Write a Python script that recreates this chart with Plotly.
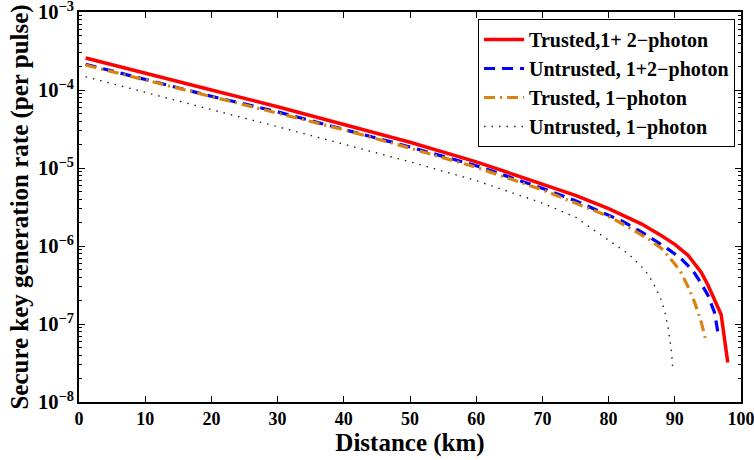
import plotly.graph_objects as go

# Distances (km) and secure key rates (per pulse)
x_trusted_12 = [1, 10, 20, 30, 40, 50, 60, 70, 75, 80, 85, 88, 90, 92, 93, 94, 95, 96, 97, 98]
y_trusted_12 = [2.57e-4, 1.63e-4, 1.0e-4, 6.1e-5, 3.63e-5, 2.14e-5, 1.2e-5, 6.3e-6, 4.47e-6,
                3.02e-6, 1.91e-6, 1.35e-6, 1.05e-6, 7.6e-7, 6.0e-7, 4.57e-7, 3.16e-7, 2.09e-7,
                1.32e-7, 3.2e-8]

x_untrusted_12 = [1, 10, 20, 30, 40, 50, 60, 70, 75, 80, 82, 85, 88, 89, 90, 91, 92, 93, 94, 95, 96, 96.5]
y_untrusted_12 = [2.14e-4, 1.36e-4, 8.3e-5, 5.25e-5, 3.16e-5, 1.86e-5, 1.07e-5, 5.5e-6, 3.8e-6,
                  2.51e-6, 2.09e-6, 1.51e-6, 1.05e-6, 9.1e-7, 7.9e-7, 6.8e-7, 5.6e-7, 4.47e-7,
                  3.3e-7, 2.34e-7, 1.41e-7, 7.9e-8]

x_trusted_1 = [1, 10, 20, 30, 40, 50, 60, 70, 75, 80, 83, 86, 88, 90, 91, 92, 93, 94, 94.6]
y_trusted_1 = [2.09e-4, 1.35e-4, 8.2e-5, 5.0e-5, 3.09e-5, 1.8e-5, 1.02e-5, 5.25e-6, 3.55e-6,
               2.4e-6, 1.74e-6, 1.23e-6, 9.3e-7, 5.9e-7, 4.47e-7, 3.0e-7, 1.9e-7, 1.05e-7, 6.6e-8]

x_untrusted_1 = [1, 10, 20, 30, 40, 50, 60, 70, 75, 79, 81, 83, 85, 86, 87, 88, 88.5, 89, 89.5, 89.7]
y_untrusted_1 = [1.48e-4, 9.3e-5, 5.6e-5, 3.39e-5, 2.04e-5, 1.2e-5, 6.9e-6, 3.55e-6, 2.34e-6,
                 1.35e-6, 1.02e-6, 7.9e-7, 5.4e-7, 4.27e-7, 3.02e-7, 2.0e-7, 1.41e-7, 8.9e-8,
                 4.47e-8, 2.6e-8]

x_ticks = [0, 10, 20, 30, 40, 50, 60, 70, 80, 90, 100]

fig = go.Figure()
fig.add_trace(go.Scatter(x=x_trusted_12, y=y_trusted_12, mode="lines",
                         name="Trusted,1+ 2\u2212photon",
                         line=dict(color="#ff0000", width=3.5)))
fig.add_trace(go.Scatter(x=x_untrusted_12, y=y_untrusted_12, mode="lines",
                         name="Untrusted, 1+2\u2212photon",
                         line=dict(color="#0000ff", width=3.2, dash="11px,7px")))
fig.add_trace(go.Scatter(x=x_trusted_1, y=y_trusted_1, mode="lines",
                         name="Trusted, 1\u2212photon",
                         line=dict(color="#d9820f", width=3.2, dash="11px,5px,2px,5px")))
fig.add_trace(go.Scatter(x=x_untrusted_1, y=y_untrusted_1, mode="lines",
                         name="Untrusted, 1\u2212photon",
                         line=dict(color="#222222", width=1.4, dash="1.5px,6px")))

font_family = "Liberation Serif, Times New Roman, serif"

fig.update_layout(
    width=754, height=460,
    margin=dict(l=79, r=13, t=12, b=58),
    paper_bgcolor="white", plot_bgcolor="white",
    font=dict(family=font_family, color="black"),
    showlegend=True,
    legend=dict(
        x=0.991, y=0.982, xanchor="right", yanchor="top",
        bgcolor="white", bordercolor="black", borderwidth=1,
        font=dict(family=font_family, size=20, color="black", weight="bold"),
        tracegroupgap=0, itemwidth=40,
    ),
)

fig.update_xaxes(
    range=[0, 100], tickmode="array", tickvals=x_ticks, automargin=False,
    ticklabeloverflow="allow",
    ticks="inside", ticklen=6, tickwidth=1, tickcolor="black",
    showline=True, linecolor="black", linewidth=1.5, mirror="ticks",
    showgrid=False, zeroline=False,
    tickfont=dict(family=font_family, size=18, color="black", weight="bold"),
    title=dict(text="Distance (km)", standoff=0,
               font=dict(family=font_family, size=25, color="black", weight="bold")),
)

fig.update_yaxes(
    type="log", range=[-8, -3], dtick=1, automargin=False,
    ticklabeloverflow="allow",
    exponentformat="power", showexponent="all",
    ticks="inside", ticklen=6, tickwidth=1, tickcolor="black",
    minor=dict(ticks="inside", ticklen=3, tickcolor="black", showgrid=False),
    showline=True, linecolor="black", linewidth=1.5, mirror="ticks",
    showgrid=False, zeroline=False,
    tickfont=dict(family=font_family, size=16.5, color="black", weight="bold"),
    title=dict(text="Secure key generation rate (per pulse)", standoff=2,
               font=dict(family=font_family, size=25, color="black", weight="bold")),
)

fig.write_html("out.html",
               config={"displayModeBar": False},
               post_script="document.body.style.margin='0px';document.body.style.overflow='hidden';")
